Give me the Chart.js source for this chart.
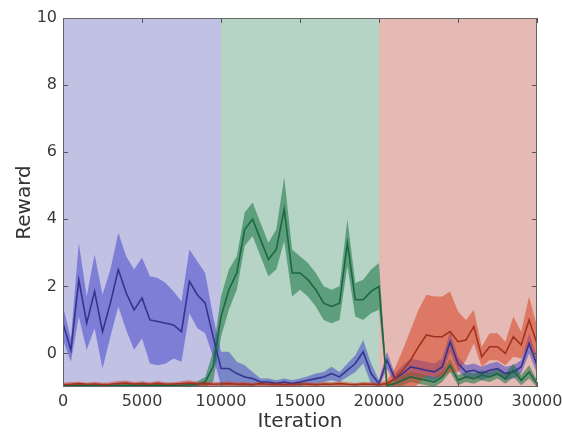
<!DOCTYPE html>
<html>
<head>
<meta charset="utf-8">
<script src="https://cdn.jsdelivr.net/npm/chart.js@4.4.0/dist/chart.umd.min.js"></script>
<style>
html, body { margin: 0; padding: 0; background: #fff; }
</style>
</head>
<body>
<canvas id="chart" width="562" height="435"></canvas>
<script>
// Training iterations (x values)
const iterations = [
    0, 500, 1000, 1500, 2000, 2500, 3000, 3500, 4000, 4500,
    5000, 5500, 6000, 6500, 7000, 7500, 8000, 8500, 9000, 9500,
    10000, 10500, 11000, 11500, 12000, 12500, 13000, 13500, 14000, 14500,
    15000, 15500, 16000, 16500, 17000, 17500, 18000, 18500, 19000, 19500,
    20000, 20500, 21000, 21500, 22000, 22500, 23000, 23500, 24000, 24500,
    25000, 25500, 26000, 26500, 27000, 27500, 28000, 28500, 29000, 29500,
    30000
];

// Blue task
const blueMean = [
    0.9, 0.1, 2.2, 0.9, 1.85, 0.65, 1.5, 2.5, 1.8, 1.3,
    1.65, 1.0, 0.95, 0.9, 0.85, 0.65, 2.15, 1.75, 1.5, 0.5,
    -0.45, -0.45, -0.6, -0.7, -0.75, -0.85, -0.85, -0.9, -0.85, -0.9,
    -0.85, -0.8, -0.75, -0.7, -0.6, -0.7, -0.5, -0.3, 0.05, -0.6,
    -0.9, -0.2, -0.75, -0.6, -0.4, -0.45, -0.5, -0.55, -0.4, 0.35,
    -0.3, -0.55, -0.5, -0.6, -0.5, -0.45, -0.6, -0.55, -0.4, 0.3,
    -0.35
];
const blueSd = [
    0.5, 0.35, 1.1, 0.8, 1.1, 1.1, 1.0, 1.1, 1.1, 1.2,
    1.2, 1.3, 1.3, 1.2, 1.0, 0.9, 0.95, 1.0, 0.9, 0.6,
    0.5, 0.5, 0.35, 0.35, 0.2, 0.1, 0.1, 0.1, 0.1, 0.1,
    0.1, 0.12, 0.15, 0.15, 0.2, 0.15, 0.2, 0.25, 0.35, 0.3,
    0.1, 0.25, 0.15, 0.25, 0.25, 0.25, 0.25, 0.25, 0.25, 0.3,
    0.2, 0.2, 0.2, 0.2, 0.2, 0.2, 0.2, 0.2, 0.2, 0.3,
    0.25
];

// Green task
const greenMean = [
    -0.95, -0.95, -0.94, -0.95, -0.95, -0.94, -0.95, -0.95, -0.95, -0.94,
    -0.95, -0.95, -0.94, -0.95, -0.95, -0.95, -0.94, -0.93, -0.85, -0.4,
    1.1, 1.9, 2.4, 3.7, 4.0, 3.4, 2.8, 3.1, 4.3, 2.4,
    2.4, 2.2, 1.9, 1.5, 1.4, 1.5, 3.3, 1.6, 1.6, 1.85,
    2.0, -0.95, -0.9, -0.8, -0.7, -0.75, -0.8, -0.85, -0.7, -0.35,
    -0.8, -0.7, -0.75, -0.65, -0.7, -0.6, -0.75, -0.5, -0.8, -0.55,
    -0.9
];
const greenSd = [
    0.03, 0.03, 0.03, 0.03, 0.03, 0.03, 0.03, 0.03, 0.03, 0.03,
    0.03, 0.03, 0.03, 0.03, 0.03, 0.03, 0.05, 0.1, 0.15, 0.45,
    0.6, 0.6, 0.5, 0.5, 0.5, 0.5, 0.5, 0.6, 0.95, 0.7,
    0.5, 0.5, 0.5, 0.5, 0.5, 0.5, 0.7, 0.5, 0.6, 0.65,
    0.7, 0.1, 0.15, 0.15, 0.15, 0.15, 0.15, 0.15, 0.15, 0.2,
    0.15, 0.15, 0.15, 0.15, 0.15, 0.15, 0.15, 0.2, 0.15, 0.2,
    0.1
];

// Red task
const redMean = [
    -0.93, -0.92, -0.9, -0.92, -0.91, -0.93, -0.92, -0.9, -0.88, -0.91,
    -0.9, -0.92, -0.89, -0.92, -0.91, -0.9, -0.88, -0.91, -0.9, -0.92,
    -0.91, -0.9, -0.92, -0.91, -0.93, -0.9, -0.92, -0.91, -0.93, -0.92,
    -0.91, -0.92, -0.93, -0.91, -0.92, -0.9, -0.92, -0.93, -0.91, -0.92,
    -0.93, -0.9, -0.75, -0.5, -0.2, 0.2, 0.55, 0.5, 0.5, 0.65,
    0.35, 0.4, 0.8, -0.1, 0.2, 0.2, 0.0, 0.5, 0.25, 1.0,
    0.3
];
const redSd = [
    0.06, 0.07, 0.06, 0.05, 0.07, 0.06, 0.06, 0.08, 0.07, 0.06,
    0.07, 0.06, 0.07, 0.06, 0.05, 0.07, 0.08, 0.06, 0.07, 0.06,
    0.06, 0.07, 0.06, 0.06, 0.05, 0.07, 0.06, 0.06, 0.05, 0.06,
    0.06, 0.06, 0.05, 0.07, 0.06, 0.07, 0.06, 0.05, 0.06, 0.06,
    0.05, 0.1, 0.3, 0.6, 0.9, 1.1, 1.2, 1.2, 1.2, 1.2,
    0.9, 0.6, 0.5, 0.3, 0.4, 0.4, 0.35, 0.6, 0.4, 0.7,
    0.5
];

// Phase boundaries (shaded backgrounds)
const phaseBounds = [0, 10000, 20000, 30000];
const xTicks = [0, 5000, 10000, 15000, 20000, 25000, 30000];
const yTicks = [0, 2, 4, 6, 8, 10];

const phaseColors = ['#c1c1e4', '#b5d4c5', '#e5bab5'];
const seriesStyles = [
    { mean: blueMean, sd: blueSd, line: '#34348e', band: 'rgba(60, 60, 200, 0.5)' },
    { mean: greenMean, sd: greenSd, line: '#1c6640', band: 'rgba(20, 115, 65, 0.55)' },
    { mean: redMean, sd: redSd, line: '#a2321f', band: 'rgba(215, 65, 35, 0.55)' }
];

function toPoints(values) {
    return iterations.map((x, i) => ({ x: x, y: values[i] }));
}

function buildDatasets() {
    const datasets = [];
    seriesStyles.forEach((s, k) => {
        const upper = s.mean.map((m, i) => m + s.sd[i]);
        const lower = s.mean.map((m, i) => m - s.sd[i]);
        datasets.push({
            data: toPoints(upper),
            borderWidth: 0,
            pointRadius: 0,
            backgroundColor: s.band,
            fill: '+1',
            order: 10 - k
        });
        datasets.push({
            data: toPoints(lower),
            borderWidth: 0,
            pointRadius: 0,
            fill: false,
            order: 10 - k
        });
        datasets.push({
            data: toPoints(s.mean),
            borderColor: s.line,
            borderWidth: 1.6,
            pointRadius: 0,
            fill: false,
            order: 3 - k
        });
    });
    return datasets;
}

// Coloured background for each training phase
const phaseBackground = {
    id: 'phaseBackground',
    beforeDatasetsDraw(chart) {
        const { ctx, chartArea, scales: { x } } = chart;
        ctx.save();
        for (let i = 0; i < phaseColors.length; i++) {
            const x0 = x.getPixelForValue(phaseBounds[i]);
            const x1 = x.getPixelForValue(phaseBounds[i + 1]);
            ctx.fillStyle = phaseColors[i];
            ctx.fillRect(x0, chartArea.top, x1 - x0, chartArea.bottom - chartArea.top);
        }
        ctx.restore();
    }
};

// Matplotlib-like frame with inward ticks on all sides
const axesFrame = {
    id: 'axesFrame',
    afterDatasetsDraw(chart) {
        const { ctx, chartArea: a, scales: { x, y } } = chart;
        ctx.save();
        ctx.strokeStyle = '#555';
        ctx.lineWidth = 1;
        ctx.beginPath();
        x.ticks.forEach(t => {
            const px = Math.round(x.getPixelForValue(t.value)) + 0.5;
            ctx.moveTo(px, a.bottom); ctx.lineTo(px, a.bottom - 5);
            ctx.moveTo(px, a.top); ctx.lineTo(px, a.top + 5);
        });
        y.ticks.forEach(t => {
            const py = Math.round(y.getPixelForValue(t.value)) + 0.5;
            ctx.moveTo(a.left, py); ctx.lineTo(a.left + 5, py);
            ctx.moveTo(a.right, py); ctx.lineTo(a.right - 5, py);
        });
        ctx.stroke();
        ctx.strokeStyle = '#666';
        ctx.strokeRect(a.left + 0.5, a.top + 0.5, a.right - a.left - 1, a.bottom - a.top - 1);
        ctx.restore();
    }
};

const tickFont = { family: 'DejaVu Sans', size: 16 };
const titleFont = { family: 'DejaVu Sans', size: 20 };

new Chart(document.getElementById('chart'), {
    type: 'line',
    data: { datasets: buildDatasets() },
    options: {
        responsive: false,
        animation: false,
        layout: { padding: { top: 18, right: 25, left: 0, bottom: 0 } },
        plugins: {
            legend: { display: false },
            tooltip: { enabled: false }
        },
        elements: { line: { tension: 0 } },
        scales: {
            x: {
                type: 'linear',
                min: 0,
                max: 30000,
                grid: { display: false, drawTicks: false },
                border: { display: false },
                afterBuildTicks: scale => { scale.ticks = xTicks.map(v => ({ value: v })); },
                afterFit: scale => {
                    scale.height = 48;
                    scale.paddingLeft = 0;
                    scale.paddingRight = 0;
                },
                ticks: {
                    font: tickFont,
                    color: '#3a3a3a',
                    padding: 5,
                    maxRotation: 0,
                    callback: v => String(v)
                },
                title: {
                    display: true,
                    text: 'Iteration',
                    font: titleFont,
                    color: '#333',
                    padding: { top: 0, bottom: 1 }
                }
            },
            y: {
                min: -1,
                max: 10,
                grid: { display: false, drawTicks: false },
                border: { display: false },
                afterBuildTicks: scale => { scale.ticks = yTicks.map(v => ({ value: v })); },
                afterFit: scale => {
                    scale.width = 63;
                    scale.paddingTop = 0;
                    scale.paddingBottom = 0;
                },
                ticks: {
                    font: tickFont,
                    color: '#3a3a3a',
                    padding: 6,
                    callback: v => String(v)
                },
                title: {
                    display: true,
                    text: 'Reward',
                    font: titleFont,
                    color: '#333',
                    padding: { top: 13, bottom: 0 }
                }
            }
        }
    },
    plugins: [phaseBackground, axesFrame]
});
</script>
</body>
</html>
